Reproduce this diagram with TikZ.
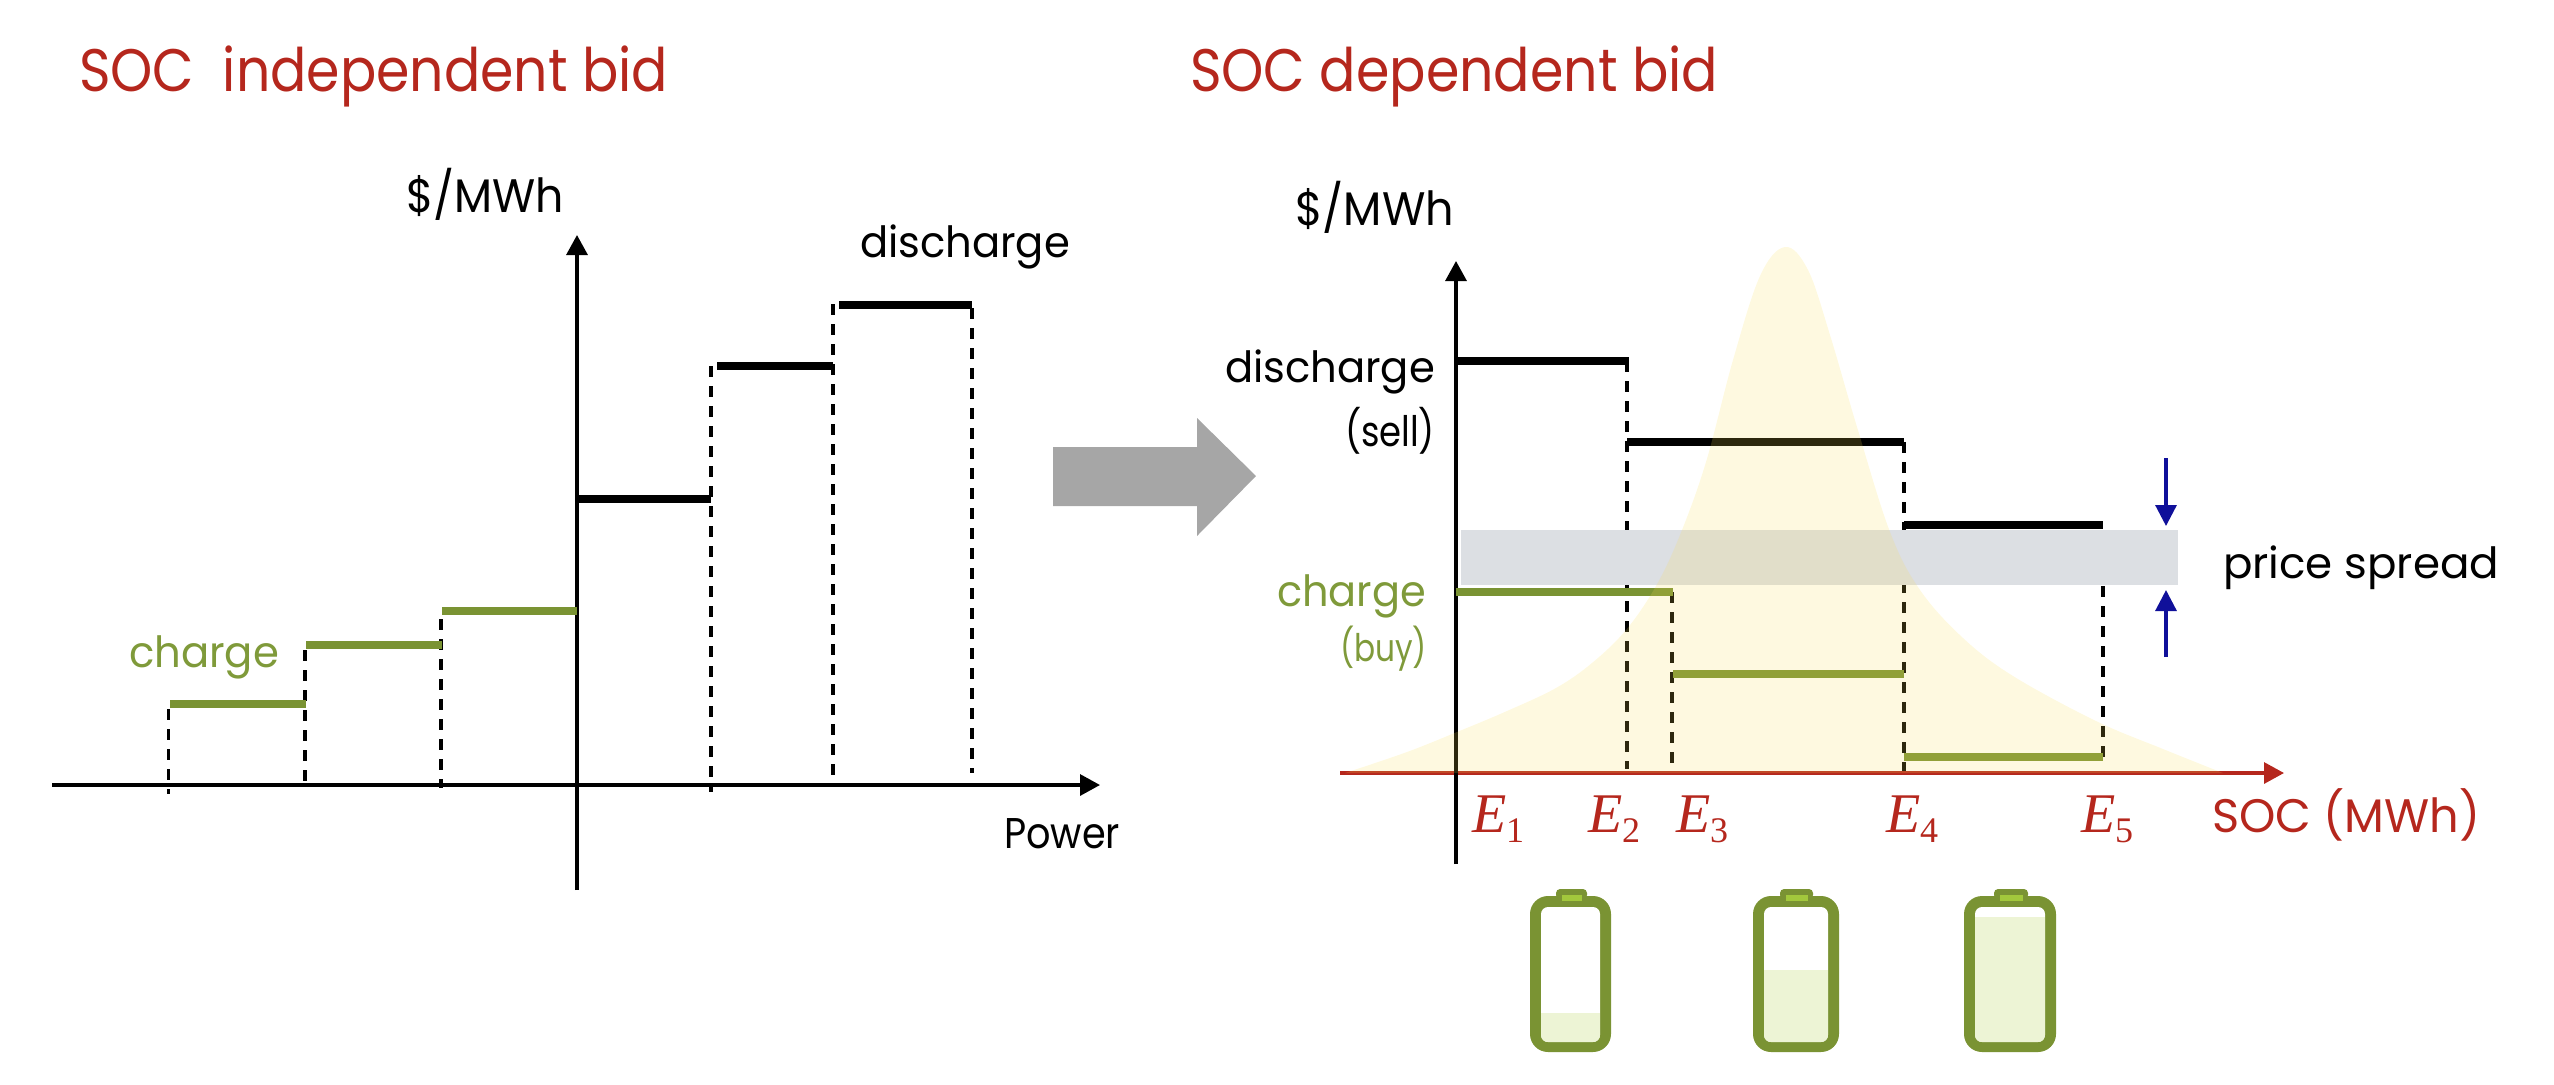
\documentclass[tikz,border=0pt]{standalone}
\usepackage{fontspec}
\usepackage{graphicx}
\setmainfont{Poppins}
\newfontfamily\efont{Liberation Serif}
\usetikzlibrary{arrows.meta}
\definecolor{tred}{HTML}{B5271D}
\definecolor{tgreen}{HTML}{7F9A3A}
\definecolor{bgreen}{HTML}{7A9333}
\definecolor{lgreen}{HTML}{A2C83C}
\definecolor{fgreen}{HTML}{EDF4D5}
\definecolor{tblue}{HTML}{10109A}
\definecolor{band}{HTML}{DCDFE3}
\definecolor{ylw}{HTML}{FADE53}
\definecolor{garrow}{HTML}{A6A6A6}
% #1 = width in px, #2 = text: stretch horizontally only
\newcommand{\fitw}[2]{\resizebox{\dimexpr#1pt*1/2\relax}{\height}{#2}}
\newcommand{\titlefs}{\fontsize{30}{30}\selectfont}
\newcommand{\labelfs}{\fontsize{21.5}{21.5}\selectfont}
\newcommand{\capsfs}{\fontsize{23.5}{23.5}\selectfont}
\newcommand{\sellfs}{\fontsize{21}{21}\selectfont}
\newcommand{\buyfs}{\fontsize{19}{19}\selectfont}
\newcommand{\ee}[1]{{\efont\fontsize{28}{28}\selectfont\itshape E\/}\raisebox{-5pt}{\efont\fontsize{18}{18}\selectfont #1}}
\newcommand{\batt}[7]{% outerL outerR fillTop termL termR lightL lightR
  \fill[bgreen,rounded corners=2pt] (#4,899) -- (#4,889) -- (#5,889) -- (#5,899) -- cycle;
  \fill[bgreen,rounded corners=9pt] (#1,896) rectangle (#2,1052);
  \fill[white,rounded corners=3.5pt] (#1+11,907) rectangle (#2-11,1042);
  \begin{scope}
    \clip[rounded corners=3.5pt] (#1+11,907) rectangle (#2-11,1042);
    \fill[fgreen] (#1+11,#3) rectangle (#2-11,1042);
  \end{scope}
  \fill[lgreen] (#6,895) rectangle (#7,901);
}
\tikzset{
  x=.5pt,y=-.5pt,
  txt/.style={inner sep=0pt,outer sep=0pt,anchor=base west},
  stepline/.style={line width=4.3pt},
  dashline/.style={line width=1.6pt,dash pattern=on 5.5pt off 4.5pt},
  axisline/.style={line width=1.6pt,-{Triangle[length=10pt,width=10.5pt]}},
  spreadarrow/.style={tblue,line width=1.6pt,-{Triangle[length=10.5pt,width=10.5pt]}},
}
\begin{document}
\begin{tikzpicture}
\useasboundingbox (0,0) rectangle (2554,1084);
% ---------- left chart
\node[txt,text=tred] (t1) at (79,91) {\titlefs\fitw{589}{SOC\ \ independent bid}};
\node[txt] (ylab1) at (406,212) {\capsfs\fitw{158}{\$/MWh}};
\node[txt] (dis1) at (860,257) {\labelfs\fitw{210}{discharge}};
\node[txt,text=tgreen] (ch1) at (129,667) {\labelfs\fitw{150}{charge}};
\node[txt] (pw) at (1004,848) {\labelfs\fitw{116}{Power}};
\draw[dashline] (168.5,709) -- (168.5,794);
\draw[dashline] (305,650) -- (305,785);
\draw[dashline] (441,619) -- (441,788);
\draw[dashline] (711,366) -- (711,792);
\draw[dashline] (833,304) -- (833,781);
\draw[dashline] (972,308) -- (972,773);
\draw[axisline] (52,785) -- (1100,785);
\draw[axisline] (577,890) -- (577,235);
\draw[stepline,bgreen] (170,704) -- (306,704);
\draw[stepline,bgreen] (306,645) -- (442,645);
\draw[stepline,bgreen] (442,611) -- (577,611);
\draw[stepline] (577,499) -- (711,499);
\draw[stepline] (717,366) -- (833,366);
\draw[stepline] (839,305) -- (972,305);
% ---------- block arrow
\fill[garrow] (1053,447) -- (1197,447) -- (1197,418) -- (1256,476) -- (1197,536) -- (1197,506) -- (1053,506) -- cycle;
% ---------- right chart
\node[txt,text=tred] (t2) at (1190,91) {\titlefs\fitw{528}{SOC dependent bid}};
\node[txt] (ylab2) at (1295,225) {\capsfs\fitw{159}{\$/MWh}};
\node[txt] (dis2) at (1225,382) {\labelfs\fitw{210}{discharge}};
\node[txt] (sell) at (1345,446) {\sellfs\fitw{90}{(sell)}};
\node[txt,text=tgreen] (ch2) at (1277,606) {\labelfs\fitw{149}{charge}};
\node[txt,text=tgreen] (buy) at (1340,661) {\buyfs\fitw{87}{(buy)}};
\node[txt] (spread) at (2223,578) {\labelfs\fitw{276}{price spread}};
\node[txt,text=tred] (E1) at (1472,832) {\ee{1}};
\node[txt,text=tred] (E2) at (1588,832) {\ee{2}};
\node[txt,text=tred] (E3) at (1676,832) {\ee{3}};
\node[txt,text=tred] (E4) at (1886,832) {\ee{4}};
\node[txt,text=tred] (E5) at (2081,832) {\ee{5}};
\node[txt,text=tred] (soc) at (2212,832) {\capsfs\fitw{268}{SOC (MWh)}};
\draw[dashline] (1627,361) -- (1627,769);
\draw[dashline] (1672,592) -- (1672,773);
\draw[dashline] (1904,442) -- (1904,773);
\draw[dashline] (2103,586) -- (2103,760);
\fill[band] (1461,530) rectangle (2178,585);
\draw[axisline,tred] (1340,773) -- (2284,773);
\draw[axisline] (1456,864) -- (1456,261);
\draw[stepline] (1456,361) -- (1629,361);
\draw[stepline] (1627,442) -- (1904,442);
\draw[stepline] (1904,525) -- (2103,525);
\draw[stepline,bgreen] (1456,592) -- (1673,592);
\draw[stepline,bgreen] (1673,674) -- (1904,674);
\draw[stepline,bgreen] (1904,757) -- (2103,757);
\draw[spreadarrow] (2166,458) -- (2166,526);
\draw[spreadarrow] (2166,657) -- (2166,590);
\fill[ylw,opacity=.18] plot[smooth,tension=.6] coordinates {(1345,773) (1407,752) (1457,732) (1507,711) (1556,688) (1592,663) (1626,630) (1656,586) (1680,535) (1706,462) (1733,360) (1760,276) (1785,247) (1808,270) (1830,335) (1857,427) (1890,532) (1920,590) (1963,638) (2013,676) (2096,721) (2163,749) (2223,773)} -- cycle;
% ---------- batteries
\batt{1530}{1611}{1012.5}{1556}{1587}{1561.5}{1581.5}
\batt{1753}{1839}{970}{1780}{1813}{1786}{1808}
\batt{1964}{2056}{917}{1994}{2028}{2000}{2023}
\end{tikzpicture}
\end{document}
